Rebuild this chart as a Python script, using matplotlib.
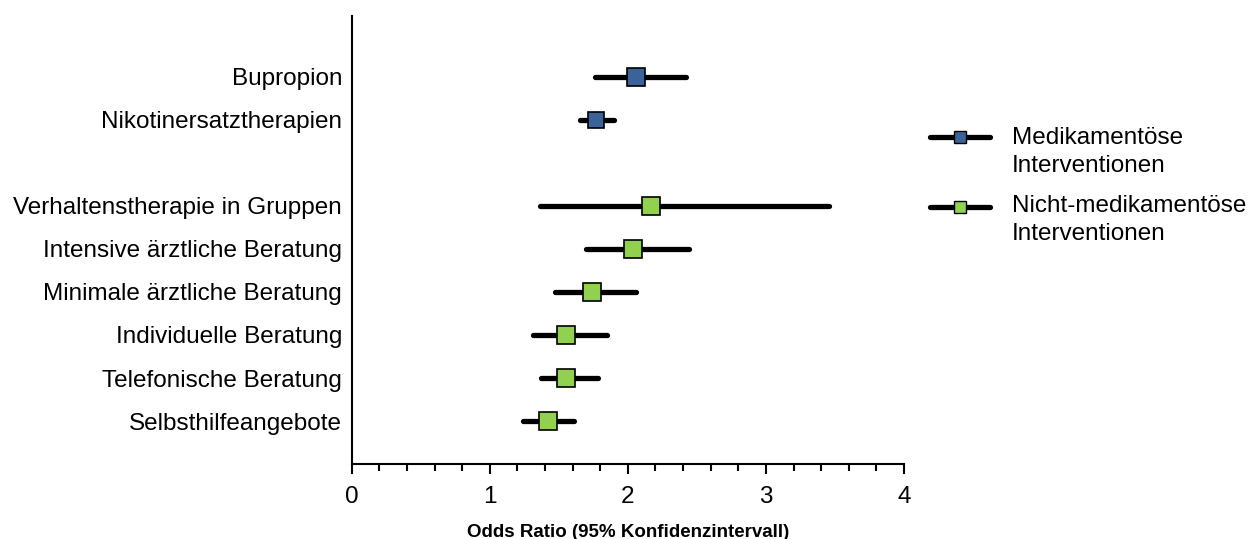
import matplotlib.pyplot as plt
from matplotlib.lines import Line2D
from matplotlib.ticker import MultipleLocator

plt.rcParams["font.family"] = ["Liberation Sans", "DejaVu Sans"]

# data
labels = [
    "Bupropion",
    "Nikotinersatztherapien",
    "Verhaltenstherapie in Gruppen",
    "Intensive ärztliche Beratung",
    "Minimale ärztliche Beratung",
    "Individuelle Beratung",
    "Telefonische Beratung",
    "Selbsthilfeangebote",
]
ypos = [0, 1, 3, 4, 5, 6, 7, 8]
odds = [2.06, 1.77, 2.17, 2.04, 1.74, 1.55, 1.55, 1.42]
lower = [1.76, 1.65, 1.36, 1.70, 1.47, 1.31, 1.37, 1.24]
upper = [2.42, 1.90, 3.46, 2.44, 2.06, 1.85, 1.78, 1.61]
group = ["med", "med", "non", "non", "non", "non", "non", "non"]
xticks = [0, 1, 2, 3, 4]

colors = {"med": "#3B6398", "non": "#92D050"}
legend_labels = {
    "med": "Medikamentöse\nInterventionen",
    "non": "Nicht-medikamentöse\nInterventionen",
}

fig = plt.figure(figsize=(12.52, 5.39), dpi=100)
ax = fig.add_axes([0.281, 0.139, 0.441, 0.832])

for y, o, lo, hi, g in zip(ypos, odds, lower, upper, group):
    ax.plot([lo, hi], [y, y], c="k", lw=3.8, solid_capstyle="round", zorder=2)
    ms = 11.5 if (hi - lo) < 0.3 else 13
    ax.plot(o, y, marker="s", ms=ms, mfc=colors[g], mec="k", mew=1.2, zorder=3)

ax.set_xlim(0, 4)
ax.set_ylim(9, -1.42)
ax.set_yticks(ypos)
ax.set_yticklabels(labels, fontsize=17.5)
ax.tick_params(axis="y", length=0, pad=7)

ax.set_xticks(xticks)
ax.set_xticklabels([str(t) for t in xticks])
ax.xaxis.set_minor_locator(MultipleLocator(0.2))
ax.tick_params(axis="x", which="major", length=7, width=1.5, labelsize=17.5, pad=8.5)
ax.tick_params(axis="x", which="minor", length=5, width=1.5)

for s in ["top", "right"]:
    ax.spines[s].set_visible(False)
for s in ["left", "bottom"]:
    ax.spines[s].set_linewidth(1.5)

ax.set_xlabel("Odds Ratio (95% Konfidenzintervall)", fontsize=13.5,
              fontweight="bold", labelpad=12)

# legend, drawn by hand so the handle sits on the first text line
for i, g in enumerate(["med", "non"]):
    yl = 1 - (137 + i * 70) / 539
    fig.add_artist(Line2D([930 / 1252, 990 / 1252], [yl, yl], c="k", lw=3.8,
                          solid_capstyle="round", transform=fig.transFigure))
    fig.add_artist(Line2D([960 / 1252], [yl], marker="s", ms=8.5, mfc=colors[g],
                          mec="k", mew=1.0, transform=fig.transFigure))
    fig.text(1012 / 1252, yl + (10 + 2 * i) / 539, legend_labels[g], fontsize=17.5,
             va="top", ha="left", linespacing=1.38)

fig.savefig("out.png", dpi=100)
